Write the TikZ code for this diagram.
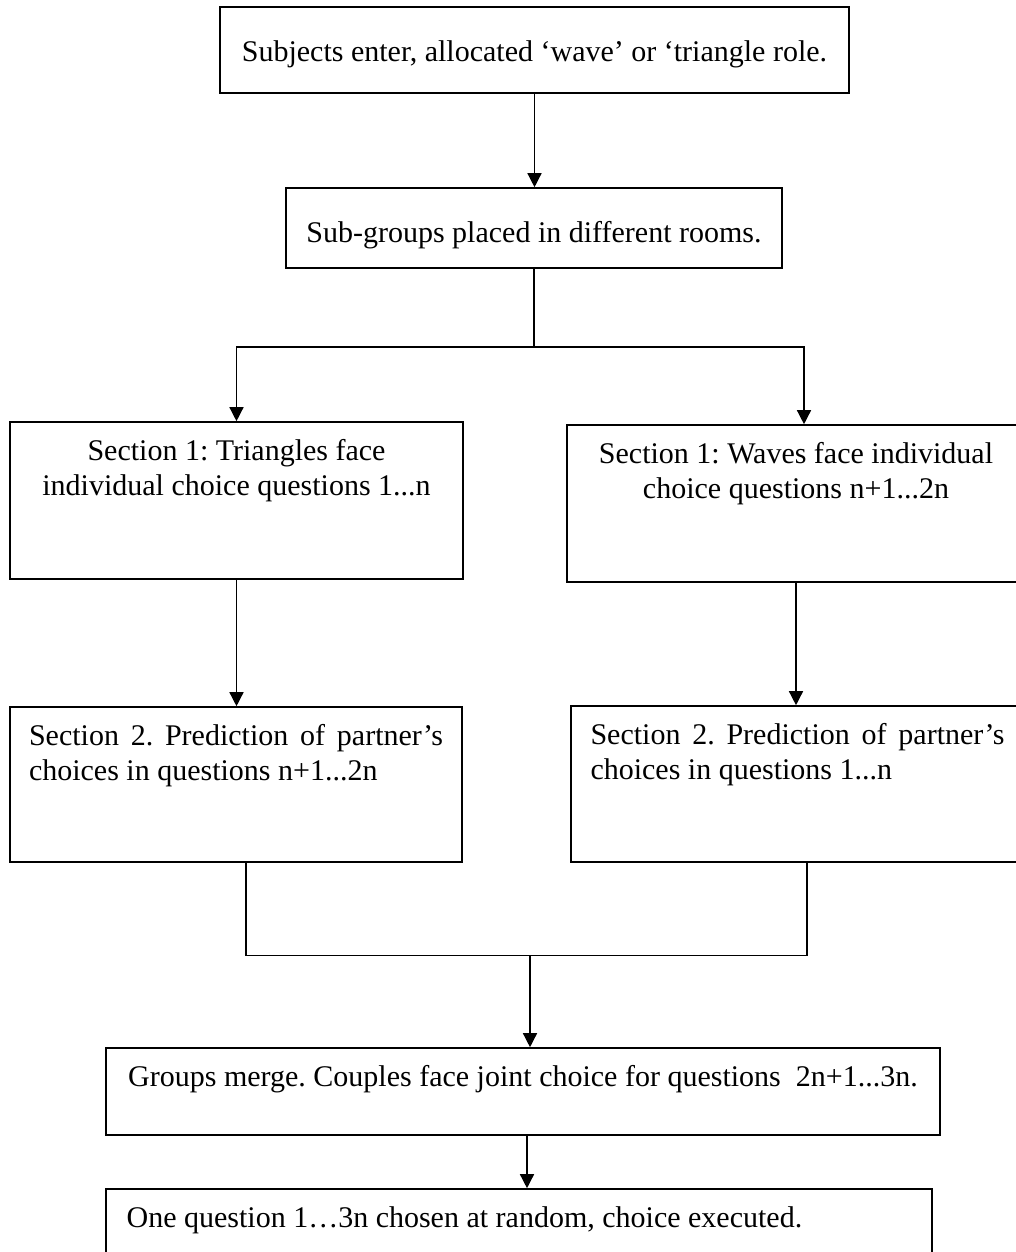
\documentclass[tikz,border=0pt]{standalone}
\usepackage{fontspec}
\setmainfont{Liberation Serif}
\usetikzlibrary{arrows.meta,positioning,calc}
\tikzstyle{box} = [rectangle, draw, line width=0.8pt, inner sep=0pt, font=\fontsize{15}{17.5}\selectfont\frenchspacing]
\tikzstyle{txt} = [inner sep=0pt, anchor=north, font=\fontsize{15}{17.5}\selectfont\frenchspacing]
\tikzstyle{line} = [line width=0.7pt]
\tikzstyle{arrow} = [line width=0.7pt,-{Triangle[width=7pt,length=7pt]}]

\begin{document}
\begin{tikzpicture}[x=0.5pt,y=-0.5pt]
  \useasboundingbox (0,0) rectangle (1016,1252);

  \node[box, minimum width=314.5pt, minimum height=43pt, text height=15.2pt, text depth=3.2pt] (enter) at (534.5,50) {Subjects enter, allocated ‘wave’ or ‘triangle role.};
  \node[box, minimum width=248pt, minimum height=40pt, text height=17.2pt, text depth=3.2pt] (rooms) at (534,228) {Sub-groups placed in different rooms.};

  \node[box, minimum width=226.5pt, minimum height=78.5pt] (triA) at (236.5,500.5) {};
  \node[box, minimum width=229pt, minimum height=78.5pt] (waveA) at (796,503.5) {};
  \node[box, minimum width=226pt, minimum height=77.5pt] (triB) at (236,784.5) {};
  \node[box, minimum width=226.5pt, minimum height=78pt] (waveB) at (797.5,784) {};
  \node[box, minimum width=417pt, minimum height=43.5pt] (merge) at (523,1091.5) {};
  \node[box, minimum width=413pt, minimum height=36.5pt] (random) at (519,1225.5) {};

  % texts sit near the top of their boxes
  \node[txt, align=center, below=9pt of triA.north] (triAtext) {Section 1: Triangles face\\individual choice questions 1...n};
  \node[txt, align=center, below=9pt of waveA.north] (waveAtext) {Section 1: Waves face individual\\choice questions n+1...2n};
  \node[txt, text width=207pt, align=justify, below=9pt of triB.north] (triBtext) {Section 2. Prediction of partner’s\linebreak choices in questions n+1...2n};
  \node[txt, text width=207pt, align=justify, below=9pt of waveB.north] (waveBtext) {Section 2. Prediction of partner’s\linebreak choices in questions 1...n};
  \node[txt, below=9pt of merge.north] (mergetext) {Groups merge. Couples face joint choice for questions\ \ 2n+1...3n.};
  \node[txt, below right=9pt and 10.5pt of random.north west] (randomtext) {One question 1…3n chosen at random, choice executed.};

  \coordinate (split) at ($(rooms.south)+(0,78)$);
  \coordinate (join) at ($(merge.north)+(7,-92)$);

  \draw[arrow] (enter.south) -- (enter.south |- rooms.north);
  \draw[line] (rooms.south) -- (split);
  \draw[arrow] (split) -| (triA.north);
  \draw[arrow] (split) -| ([xshift=4pt]waveA.north);

  \draw[arrow] (triA.south) -- (triA.south |- triB.north);
  \draw[arrow] (waveA.south) -- (waveA.south |- waveB.north);

  \draw[line] ([xshift=5pt]triB.south) |- (join) -| ([xshift=4.75pt]waveB.south);
  \draw[arrow] (join) -- (join |- merge.north);
  \draw[arrow] ([xshift=2pt]merge.south) -- ([xshift=2pt]merge.south |- random.north);
\end{tikzpicture}
\end{document}
